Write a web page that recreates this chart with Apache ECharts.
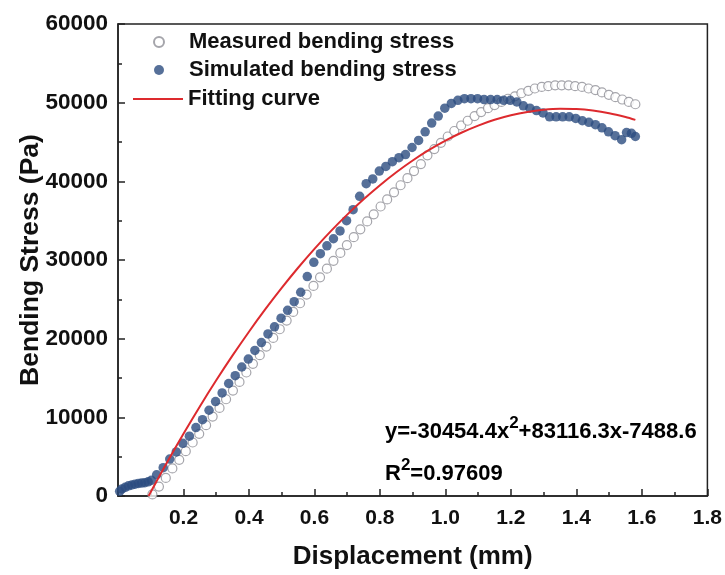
<!DOCTYPE html>
<html><head><meta charset="utf-8">
<script src="https://cdn.jsdelivr.net/npm/echarts@6/dist/echarts.min.js"></script>
<style>html,body{margin:0;padding:0;background:#fff}#c{width:725px;height:575px}</style>
</head><body><div id="c"></div>
<script>
const measuredX = [0.105,0.125,0.146,0.166,0.187,0.207,0.228,0.248,0.269,0.289,0.310,0.330,0.351,0.371,0.392,0.412,0.433,0.453,0.474,0.494,0.515,0.535,0.556,0.576,0.597,0.617,0.638,0.658,0.679,0.699,0.720,0.740,0.761,0.781,0.802,0.822,0.843,0.863,0.884,0.904,0.925,0.945,0.966,0.986,1.007,1.027,1.048,1.068,1.089,1.109,1.130,1.150,1.171,1.191,1.212,1.232,1.253,1.273,1.294,1.314,1.335,1.355,1.376,1.396,1.417,1.437,1.458,1.478,1.499,1.519,1.540,1.560,1.580];
const measuredY = [200,1200,2300,3500,4600,5700,6800,7900,9000,10100,11200,12300,13400,14500,15700,16800,17900,19000,20100,21200,22300,23400,24500,25600,26700,27800,28900,29900,30900,31900,32900,33900,34900,35800,36800,37700,38600,39500,40400,41300,42200,43300,44100,44900,45700,46400,47100,47700,48300,48800,49300,49700,50100,50500,50800,51200,51500,51800,52000,52100,52200,52200,52200,52100,52000,51800,51600,51300,51000,50700,50400,50100,49800];
const simulatedX = [0.005,0.012,0.022,0.032,0.042,0.052,0.062,0.072,0.082,0.092,0.102,0.118,0.138,0.158,0.178,0.198,0.218,0.238,0.258,0.278,0.298,0.318,0.338,0.358,0.378,0.398,0.418,0.438,0.458,0.478,0.498,0.518,0.538,0.558,0.578,0.598,0.618,0.638,0.658,0.678,0.698,0.718,0.738,0.758,0.778,0.798,0.818,0.838,0.858,0.878,0.898,0.918,0.938,0.958,0.978,0.998,1.018,1.038,1.058,1.078,1.098,1.118,1.138,1.158,1.178,1.198,1.218,1.238,1.258,1.278,1.298,1.318,1.338,1.358,1.378,1.398,1.418,1.438,1.458,1.478,1.498,1.518,1.538,1.553,1.568,1.580];
const simulatedY = [600,900,1100,1300,1400,1500,1600,1650,1700,1800,2000,2700,3600,4700,5600,6700,7600,8700,9700,10900,12000,13100,14300,15300,16400,17400,18500,19500,20600,21500,22600,23600,24700,25900,27900,29700,30800,31800,32700,33700,35000,36400,38100,39700,40300,41300,41900,42500,43000,43400,44300,45200,46300,47400,48300,49300,49900,50300,50500,50500,50500,50400,50400,50400,50300,50300,50100,49600,49300,49000,48700,48200,48200,48200,48200,48000,47700,47500,47200,46800,46300,45800,45300,46200,46100,45700];
const fitX = [0.0935,0.1,0.15,0.2,0.25,0.3,0.35,0.4,0.45,0.5,0.55,0.6,0.65,0.7,0.75,0.8,0.85,0.9,0.95,1.0,1.05,1.1,1.15,1.2,1.25,1.3,1.35,1.4,1.45,1.5,1.55,1.58];
const fitY = [0,519,4293,7916,11387,14705,17871,20885,23746,26455,29013,31417,33670,35769,37717,39513,41157,42648,43986,45173,46207,47089,47819,48397,48821,49094,49215,49184,49000,48663,48174,47809];
const seriesNames = ['Measured bending stress','Simulated bending stress','Fitting curve'];
const xTicks = {min:0, max:1.8, interval:0.2};
const yTicks = {min:0, max:60000, interval:10000};

const zip = (xs, ys) => xs.map((x,i)=>[x, ys[i]]);
const FONT = 'Liberation Sans, Arial, sans-serif';
const chart = echarts.init(document.getElementById('c'), null, {renderer:'canvas'});
const axisCommon = {
  axisLine:{show:true, lineStyle:{color:'#222', width:1.5}},
  axisTick:{show:true, inside:true, length:7, lineStyle:{color:'#222', width:1.5}},
  minorTick:{show:true, splitNumber:2, length:4, lineStyle:{color:'#222', width:1.5}},
  splitLine:{show:false}
};
const legendText = {fontFamily:FONT, fontWeight:'bold', fontSize:22, color:'#111'};
const richAnn = {
  a:{fontFamily:FONT, fontWeight:'bold', fontSize:22, color:'#111', verticalAlign:'bottom', lineHeight:28},
  s:{fontFamily:FONT, fontWeight:'bold', fontSize:17, color:'#111', verticalAlign:'top', lineHeight:28}
};
chart.setOption({
  animation:false,
  backgroundColor:'#fff',
  grid:{left:118, right:16, top:24, bottom:77, show:true, borderColor:'#222', borderWidth:1.5},
  xAxis:Object.assign({type:'value', min:xTicks.min, max:xTicks.max, interval:xTicks.interval,
    name:'Displacement (mm)', nameLocation:'middle', nameGap:48,
    nameTextStyle:{fontFamily:FONT, fontWeight:'bold', fontSize:26, color:'#111'},
    axisLabel:{fontFamily:FONT, fontWeight:'bold', fontSize:21, color:'#111', margin:12,
      formatter:v => v===0 ? '' : v.toFixed(1)}}, axisCommon),
  yAxis:Object.assign({type:'value', min:yTicks.min, max:yTicks.max, interval:yTicks.interval,
    name:'Bending Stress (Pa)', nameLocation:'middle', nameGap:74, nameMoveOverlap:false,
    nameTextStyle:{fontFamily:FONT, fontWeight:'bold', fontSize:26.5, color:'#111'},
    axisLabel:{fontFamily:FONT, fontWeight:'bold', fontSize:22.5, color:'#111', margin:10,
      formatter:v => String(v)}}, axisCommon),
  legend:[
    {orient:'vertical', left:148, top:26, itemWidth:50, itemHeight:10, itemGap:6,
     textStyle:legendText, data:[seriesNames[0], seriesNames[1]]},
    {orient:'vertical', left:128, top:83, itemWidth:50, itemHeight:2, icon:'rect',
     textStyle:legendText, data:[seriesNames[2]]}
  ],
  series:[
    {name:seriesNames[0], type:'scatter', data:zip(measuredX, measuredY), symbol:'circle', symbolSize:9,
     itemStyle:{color:'#fff', borderColor:'#8f8f96', borderWidth:1.2}, z:2},
    {name:seriesNames[1], type:'scatter', data:zip(simulatedX, simulatedY), symbol:'circle', symbolSize:9.5,
     itemStyle:{color:'#2c4c80', borderColor:'#2c4c80', borderWidth:0}, z:3},
    {name:seriesNames[2], type:'line', data:zip(fitX, fitY), symbol:'none', smooth:0.3,
     lineStyle:{color:'#dd2a2e', width:2}, itemStyle:{color:'#dd2a2e'}, z:4}
  ],
  graphic:[
    {type:'text', left:385, top:415, style:{text:'{a|y=-30454.4x}{s|2}{a|+83116.3x-7488.6}', rich:richAnn}},
    {type:'text', left:385, top:457, style:{text:'{a|R}{s|2}{a|=0.97609}', rich:richAnn}}
  ]
});
</script></body></html>
